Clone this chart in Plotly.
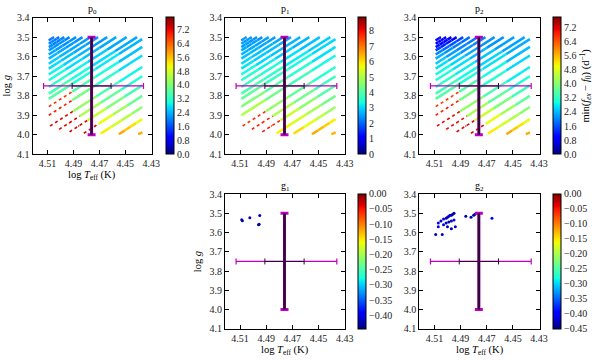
import numpy as np
import plotly.graph_objects as go
from plotly.colors import sample_colorscale

# ---- data ----
X_TICKS = [4.51, 4.49, 4.47, 4.45, 4.43]
Y_TICKS = [3.4, 3.5, 3.6, 3.7, 3.8, 3.9, 4.0, 4.1]

# tracks (start -> end), shared by the p-mode panels
TRACK_X0 = [4.509, 4.509, 4.509, 4.509, 4.509, 4.509, 4.509, 4.509, 4.509, 4.509, 4.509, 4.509,
            4.509, 4.509, 4.509, 4.508, 4.501, 4.493, 4.482, 4.469, 4.455, 4.440]
TRACK_Y0 = [3.517, 3.534, 3.551, 3.568, 3.589, 3.610, 3.636, 3.661, 3.691, 3.721, 3.755, 3.789,
            3.816, 3.856, 3.900, 3.955, 3.972, 3.985, 3.992, 3.994, 3.997, 3.997]
TRACK_X1 = [4.505, 4.501, 4.497, 4.493, 4.488, 4.483, 4.477, 4.471, 4.464, 4.457, 4.449, 4.441,
            4.437, 4.437, 4.437, 4.437, 4.437, 4.437, 4.437, 4.437, 4.437, 4.437]
TRACK_Y1 = [3.500, 3.500, 3.500, 3.500, 3.500, 3.500, 3.500, 3.500, 3.500, 3.500, 3.500, 3.500,
            3.510, 3.550, 3.594, 3.653, 3.700, 3.747, 3.801, 3.858, 3.920, 3.988]

# value along each track (start ... end)
P0_V = [[1.9, 1.9, 1.9, 1.9], [2.0, 2.0, 1.9, 1.9], [2.1, 2.0, 2.0, 2.0], [2.2, 2.1, 2.1, 2.0],
        [2.3, 2.2, 2.1, 2.1], [2.4, 2.3, 2.2, 2.1], [2.6, 2.4, 2.3, 2.2], [2.7, 2.5, 2.3, 2.2],
        [2.9, 2.6, 2.4, 2.2], [3.0, 2.7, 2.5, 2.3], [3.2, 2.9, 2.6, 2.3], [3.4, 3.0, 2.7, 2.3],
        [3.6, 3.1, 2.8, 2.4], [6.8, 3.5, 3.0, 2.5], [7.0, 3.9, 3.2, 2.7], [7.2, 4.2, 3.5, 2.9],
        [7.2, 4.4, 3.7, 3.1], [7.3, 4.7, 4.0, 3.4], [7.3, 5.0, 4.3, 3.7], [5.2, 4.8, 4.5, 4.1],
        [5.8, 5.5, 5.3, 5.0], [5.8, 5.8, 5.8, 5.8]]
P1_V = [[2.4, 2.4, 2.4, 2.4], [2.5, 2.4, 2.4, 2.4], [2.5, 2.5, 2.4, 2.4], [2.6, 2.5, 2.5, 2.4],
        [2.7, 2.6, 2.5, 2.5], [2.8, 2.7, 2.6, 2.5], [3.0, 2.8, 2.7, 2.6], [3.1, 2.9, 2.8, 2.6],
        [3.3, 3.0, 2.8, 2.7], [3.5, 3.2, 2.9, 2.7], [3.7, 3.4, 3.1, 2.8], [3.9, 3.6, 3.2, 2.9],
        [4.1, 3.7, 3.3, 3.0], [4.5, 4.0, 3.5, 3.1], [5.0, 4.3, 3.8, 3.3], [7.6, 4.7, 4.1, 3.5],
        [7.8, 5.0, 4.3, 3.7], [7.8, 5.3, 4.6, 4.0], [5.8, 5.4, 4.9, 4.3], [6.0, 5.6, 5.2, 4.8],
        [6.5, 6.3, 6.1, 5.8], [6.4, 6.4, 6.4, 6.4]]
P2_V = [[0.9, 0.9, 0.9, 0.9], [1.0, 1.0, 0.9, 0.9], [1.1, 1.0, 1.0, 1.0], [1.4, 1.2, 1.1, 1.0],
        [2.0, 1.8, 1.6, 1.5], [2.3, 2.1, 1.9, 1.8], [2.5, 2.2, 2.0, 1.9], [2.7, 2.4, 2.1, 2.0],
        [2.9, 2.6, 2.3, 2.1], [3.0, 2.7, 2.4, 2.1], [3.1, 2.8, 2.5, 2.2], [3.3, 2.9, 2.6, 2.2],
        [3.5, 3.0, 2.7, 2.3], [6.6, 3.4, 2.9, 2.4], [6.8, 3.8, 3.1, 2.6], [7.0, 4.1, 3.4, 2.8],
        [7.0, 4.3, 3.6, 3.0], [7.1, 4.6, 3.9, 3.3], [7.1, 4.9, 4.2, 3.6], [5.1, 4.7, 4.4, 4.0],
        [5.7, 5.4, 5.2, 4.9], [5.7, 5.7, 5.7, 5.7]]

# g-mode points
G1_X = [4.5087, 4.5082, 4.5025, 4.4949, 4.4954, 4.4958]
G1_Y = [3.534, 3.538, 3.523, 3.511, 3.557, 3.560]
G1_V = [-0.43, -0.43, -0.42, -0.42, -0.43, -0.43]

G2_X = [4.509, 4.507, 4.505, 4.503, 4.501, 4.500, 4.499, 4.498, 4.497, 4.496, 4.495, 4.503, 4.501, 4.499,
        4.497, 4.495, 4.500, 4.497, 4.494, 4.507, 4.504, 4.486, 4.482, 4.480, 4.479, 4.466]
G2_Y = [3.61, 3.55, 3.54, 3.53, 3.525, 3.52, 3.515, 3.51, 3.51, 3.505, 3.50, 3.56, 3.55, 3.545, 3.54,
        3.535, 3.57, 3.58, 3.57, 3.57, 3.61, 3.515, 3.52, 3.51, 3.505, 3.525]
G2_V = [-0.42, -0.41, -0.42, -0.41, -0.42, -0.43, -0.42, -0.41, -0.42, -0.43, -0.42, -0.41, -0.42, -0.43,
        -0.42, -0.41, -0.42, -0.43, -0.42, -0.41, -0.42, -0.43, -0.42, -0.44, -0.44, -0.40]

# observed box: centre and error bars
OBS_X, OBS_Y = 4.476, 3.75
OBS_DX_OUT = (0.037, 0.040)
OBS_DX_IN = (0.015, 0.015)
OBS_DY = 0.25

# ---- style ----
JET = [[0.0, 'rgb(0,0,128)'], [0.11, 'rgb(0,0,255)'], [0.125, 'rgb(0,0,255)'], [0.34, 'rgb(0,219,255)'],
       [0.35, 'rgb(0,229,247)'], [0.375, 'rgb(21,255,226)'], [0.64, 'rgb(238,255,8)'],
       [0.65, 'rgb(247,245,0)'], [0.66, 'rgb(255,236,0)'], [0.89, 'rgb(255,19,0)'],
       [0.91, 'rgb(232,0,0)'], [1.0, 'rgb(128,0,0)']]
FONT = 'Liberation Serif'
W, H = 600, 361
MAGENTA = 'rgb(191,0,191)'
DARK = 'rgb(50,5,60)'


def px_x(p):
    return p / W


def px_y(p):
    return 1 - p / H


# name, x px box, y px box, colorbar x px, cmin, cmax, dtick, tickformat, sparse above
PANELS = [
    ('p<sub>0</sub>', (33, 154), (13, 154), 168, 0.0, 7.9, 0.8, '.1f', 6.5),
    ('p<sub>1</sub>', (228, 350), (13, 154), 363, 0.0, 8.87, 1, 'd', 7.2),
    ('p<sub>2</sub>', (425, 547), (13, 154), 560, 0.0, 7.77, 0.8, '.1f', 6.4),
    ('g<sub>1</sub>', (228, 350), (195, 334), 363, -0.445, 0.0, 0.05, '.2f', 0),
    ('g<sub>2</sub>', (425, 547), (195, 334), 560, -0.45, 0.0, 0.05, '.2f', 0),
]

fig = go.Figure()
layout = dict(width=W, height=H, margin=dict(l=0, r=0, t=0, b=0), paper_bgcolor='white',
              plot_bgcolor='white', showlegend=False, font=dict(family=FONT, size=10, color='black'))
annotations = []


def colorbar(cx, yb, dtick, fmt):
    (ytop, ybot) = yb
    return dict(x=px_x(cx), xanchor='left', xpad=0, y=px_y(ybot), yanchor='bottom', ypad=0,
                len=(ybot - ytop) / H, lenmode='fraction', thickness=8, thicknessmode='pixels',
                outlinewidth=1, outlinecolor='black', ticks='', tick0=0, dtick=dtick,
                tickformat=fmt, tickfont=dict(family=FONT, size=10, color='#222'))


def add_tracks(xa, ya, vals, cmin, cmax, sparse, cb):
    mx, my, mv = [], [], []
    for x0, y0, x1, y1, v in zip(TRACK_X0, TRACK_Y0, TRACK_X1, TRACK_Y1, vals):
        n = len(v)
        t = np.linspace(0, 1, n + 1)
        xs = x0 + (x1 - x0) * t
        ys = y0 + (y1 - y0) * t
        for k in range(n):
            col = sample_colorscale(JET, [(v[k] - cmin) / (cmax - cmin)])[0]
            thin = v[k] > sparse
            fig.add_trace(go.Scatter(x=[xs[k], xs[k + 1]], y=[ys[k], ys[k + 1]], mode='lines',
                                     line=dict(color=col, width=1.6 if thin else 2.5,
                                               dash='dot' if thin else 'solid'),
                                     xaxis=xa, yaxis=ya, hoverinfo='skip'))
            mx.append((xs[k] + xs[k + 1]) / 2)
            my.append((ys[k] + ys[k + 1]) / 2)
            mv.append(v[k])
    fig.add_trace(go.Scatter(x=mx, y=my, mode='markers', xaxis=xa, yaxis=ya,
                             marker=dict(color=mv, colorscale=JET, cmin=cmin, cmax=cmax, size=1.5,
                                         showscale=True, colorbar=cb)))


def add_obs(xa, ya):
    fig.add_trace(go.Scatter(x=[OBS_X], y=[OBS_Y], mode='markers', marker=dict(size=1, color=MAGENTA),
                             xaxis=xa, yaxis=ya,
                             error_x=dict(type='data', array=[OBS_DX_OUT[0]], arrayminus=[OBS_DX_OUT[1]],
                                          color=MAGENTA, thickness=1.2, width=3),
                             error_y=dict(type='data', array=[OBS_DY], arrayminus=[OBS_DY],
                                          color=MAGENTA, thickness=3, width=4)))
    fig.add_trace(go.Scatter(x=[OBS_X], y=[OBS_Y], mode='markers', marker=dict(size=1, color=DARK),
                             xaxis=xa, yaxis=ya,
                             error_x=dict(type='data', array=[OBS_DX_IN[0]], arrayminus=[OBS_DX_IN[1]],
                                          color=DARK, thickness=1, width=3),
                             error_y=dict(type='data', array=[OBS_DY], arrayminus=[OBS_DY],
                                          color=DARK, thickness=2.4, width=0)))


values = [P0_V, P1_V, P2_V]
for i, (name, xb, yb, cx, cmin, cmax, dtick, fmt, sparse) in enumerate(PANELS):
    sfx = '' if i == 0 else str(i + 1)
    xa, ya = 'x' + sfx, 'y' + sfx
    cb = colorbar(cx, yb, dtick, fmt)
    if i < 3:
        add_tracks(xa, ya, values[i], cmin, cmax, sparse, cb)
    else:
        gx, gy, gv = (G1_X, G1_Y, G1_V) if i == 3 else (G2_X, G2_Y, G2_V)
        fig.add_trace(go.Scatter(x=gx, y=gy, mode='markers', xaxis=xa, yaxis=ya,
                                 marker=dict(color=gv, colorscale=JET, cmin=cmin, cmax=cmax, size=3,
                                             showscale=True, colorbar=cb)))
    add_obs(xa, ya)

    ax = dict(showline=True, linecolor='black', linewidth=1, mirror='allticks', ticks='inside',
              ticklen=4, tickcolor='black', showgrid=False, zeroline=False,
              tickfont=dict(family=FONT, size=10, color='#222'))
    layout['xaxis' + sfx] = dict(ax, domain=[px_x(xb[0]), px_x(xb[1])], anchor=ya,
                                 range=[4.5215, 4.4295], tickvals=X_TICKS,
                                 ticktext=['%.2f' % v for v in X_TICKS])
    layout['yaxis' + sfx] = dict(ax, domain=[px_y(yb[1]), px_y(yb[0])], anchor=xa,
                                 range=[4.1, 3.4], tickvals=Y_TICKS,
                                 ticktext=['%.1f' % v for v in Y_TICKS])
    xc = (xb[0] + xb[1]) / 2
    annotations.append(dict(text=name, x=px_x(xc), y=px_y(yb[0] - 8)))

# axis titles
for xc, yy in [(93, 176), (289, 356), (486, 356)]:
    annotations.append(dict(text='log <i>T</i><sub>eff</sub> (K)', x=px_x(xc), y=px_y(yy),
                            font=dict(size=10.5)))
for xx, yc in [(7, 83), (201, 265)]:
    annotations.append(dict(text='log <i>g</i>', x=px_x(xx), y=px_y(yc), textangle=-90,
                            font=dict(size=10.5)))
annotations.append(dict(text='min(<i>f</i><sub><i>ex</i></sub> − <i>f</i><sub>0</sub>) (d<sup>−1</sup>)',
                        x=px_x(594), y=px_y(83), textangle=-90, font=dict(size=10.5)))
for a in annotations:
    a.update(xref='paper', yref='paper', showarrow=False, xanchor='center', yanchor='middle')
layout['annotations'] = annotations
fig.update_layout(**layout)
fig.write_html("out.html", post_script="document.body.style.margin='0';",
               config={'displayModeBar': False})
